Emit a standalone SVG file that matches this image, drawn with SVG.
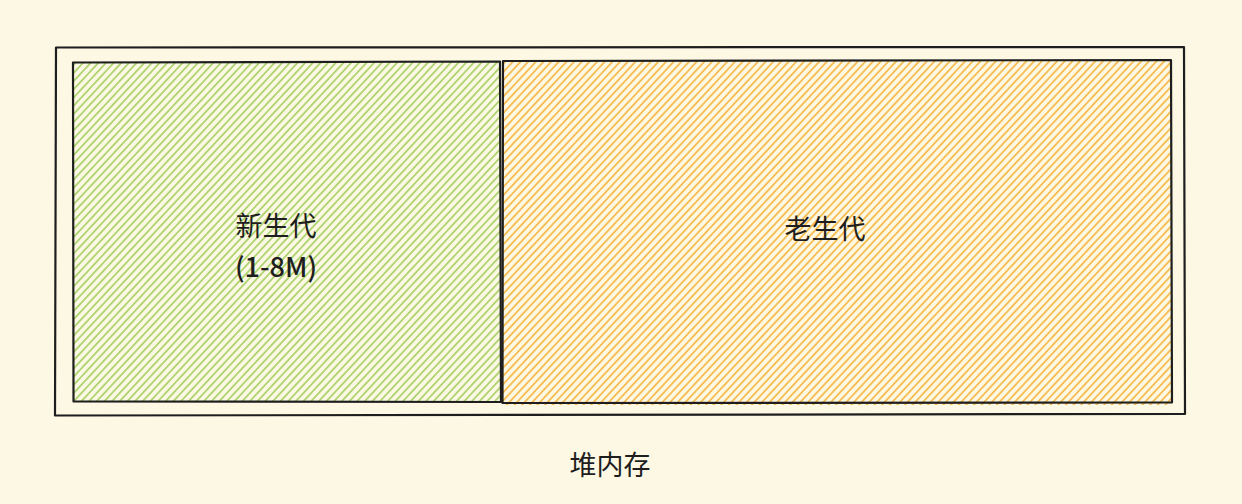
<svg xmlns="http://www.w3.org/2000/svg" width="1242" height="504" viewBox="0 0 1242 504">
<style>
.frame{fill:none;stroke:#1e1e1e;stroke-width:2.2;stroke-linejoin:round}
.t{font-family:"Noto Sans CJK SC","Noto Sans",sans-serif;font-size:27px;fill:#1e1e1e;text-anchor:middle;dominant-baseline:central}
</style>
<defs>
<pattern id="hg" patternUnits="userSpaceOnUse" width="5.6" height="6" patternTransform="rotate(43)">
<line x1="2.8" y1="0" x2="2.8" y2="6" stroke="#9ccc58" stroke-width="1.5"/>
</pattern>
<pattern id="ho" patternUnits="userSpaceOnUse" width="5.6" height="6" patternTransform="rotate(43)">
<line x1="2.8" y1="0" x2="2.8" y2="6" stroke="#f4b030" stroke-width="1.5"/>
</pattern>
</defs>
<rect width="1242" height="504" fill="#fdf8e4"/>
<g id="heap">
<path class="frame" d="M56 47.5 L1184 47 L1185 414 L55 415.5 Z"/>
<text class="t" x="610" y="463" font-size="26">堆内存</text>
</g>
<g id="young">
<rect x="73" y="62" width="427" height="340" fill="url(#hg)"/>
<path class="frame" d="M73 62.5 L500 61.5 L501 402 L73.5 401.5 Z"/>
<text class="t" x="276" y="224">新生代</text>
<text class="t" x="276" y="265" font-weight="500">(1-8M)</text>
</g>
<g id="old">
<rect x="503" y="60" width="669" height="345" fill="url(#ho)"/>
<path class="frame" d="M503 61 L1171 60 L1172 402.5 L502.5 403 Z"/>
<text class="t" x="825" y="227">老生代</text>
</g>
<g id="connectors"></g>
</svg>
